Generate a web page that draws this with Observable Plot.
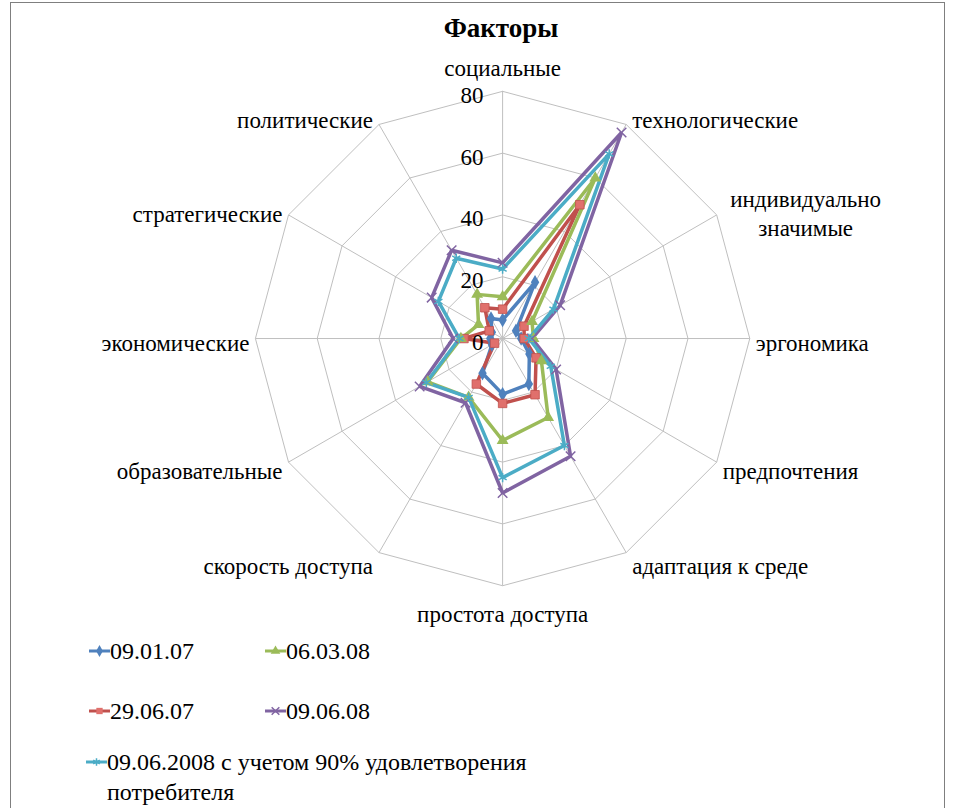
<!DOCTYPE html>
<html>
<head>
<meta charset="utf-8">
<script src="https://cdn.jsdelivr.net/npm/d3@7"></script>
<script src="https://cdn.jsdelivr.net/npm/@observablehq/plot@0.6"></script>
<style>
  html, body { margin: 0; padding: 0; background: #fff; }
  #wrap { position: relative; width: 956px; height: 808px; overflow: hidden; font-family: "Liberation Serif", "Tinos", "Times New Roman", "DejaVu Serif", serif; }
  #frame { position: absolute; left: 10px; top: 2px; width: 935px; height: 830px; border: 1px solid #7f7f7f; box-sizing: border-box; }
  #title { position: absolute; left: 0; top: 13px; width: 1002px; text-align: center; font-weight: bold; font-size: 27px; color: #000; }
  #chart { position: absolute; left: 0; top: 0; }
  .leg { position: absolute; font-size: 24px; color: #000; line-height: 30px; white-space: nowrap; }
  .leg svg { vertical-align: middle; position: absolute; left: 0; top: 9px; }
  .leg span { position: absolute; left: 22px; top: 0; }
</style>
</head>
<body>
<div id="wrap">
  <div id="chart"></div>
  <div id="title">Факторы</div>
  <div id="legend"></div>
  <div id="frame"></div>
</div>
<script>
// ---- data ----
const categories = [
  "социальные", "технологические", "индивидуально значимые", "эргономика",
  "предпочтения", "адаптация к среде", "простота доступа", "скорость доступа",
  "образовательные", "экономические", "стратегические", "политические"
];
const seriesNames = [
  "09.01.07", "29.06.07", "06.03.08", "09.06.08",
  "09.06.2008 с учетом 90% удовлетворения потребителя"
];
const s090107 = [6, 21, 5, 6, 10, 17, 18, 13, 4, 4, 4, 7.5];
const s290607 = [9.5, 50, 8, 7, 12.5, 21, 21, 17, 3, 12.5, 5, 11.5];
const s060308 = [13.5, 60, 11, 10, 14.5, 29.5, 33, 22, 28, 13.5, 9, 16.5];
const s090608 = [24.5, 77, 21.5, 9.5, 20, 44, 50, 24, 31, 16, 26.5, 33];
const s090608adj = [22.5, 69, 19, 8.5, 18, 40, 45, 22, 28.5, 14, 24, 30];
const tickValues = [0, 20, 40, 60, 80];

// ---- styles ----
const FONT = "'Liberation Serif', Tinos, 'Times New Roman', 'DejaVu Serif', serif";
const seriesValues = [s090107, s290607, s060308, s090608, s090608adj];
const colors = ["#4F81BD", "#C0504D", "#9BBB59", "#8064A2", "#4BACC6"];
const markerFill = ["#4F81BD", "#E0706C", "#9BBB59", "#8064A2", "#4BACC6"];
const symbols = ["diamond", "square", "triangle", "times", "asterisk"];
const n = categories.length;
const maxV = 80;
const ang = i => i * 2 * Math.PI / n;
const px = (v, i) => v * Math.sin(ang(i));
const py = (v, i) => v * Math.cos(ang(i));

const lineRows = [];
const dotRows = [];
seriesValues.forEach((vals, s) => {
  for (let k = 0; k <= n; k++) {
    const i = k % n;
    lineRows.push({s, x: px(vals[i], i), y: py(vals[i], i)});
    if (k < n) dotRows.push({s, x: px(vals[i], i), y: py(vals[i], i)});
  }
});
const ringRows = [];
tickValues.filter(t => t > 0).forEach(t => {
  for (let k = 0; k <= n; k++) ringRows.push({t, x: px(t, k % n), y: py(t, k % n)});
});
const spokes = categories.map((c, i) => ({x2: px(maxV, i), y2: py(maxV, i)}));

const labelRows = categories.map((c, i) => {
  const sn = Math.sin(ang(i)), cs = Math.cos(ang(i));
  let anchor = Math.abs(sn) < 0.01 ? "middle" : (sn > 0 ? "start" : "end");
  let dx = Math.abs(sn) < 0.01 ? 0 : (sn > 0 ? 6 : -6);
  let dy = 3 - 10 * cs;
  let text = c;
  if (i === 0) dy = -25;
  if (i === 6) dy = 27;
  if (c === "индивидуально значимые") { text = "индивидуально\nзначимые"; anchor = "middle"; dx = 89; dy = -3; }
  return {x: px(maxV, i), y: py(maxV, i), text, anchor, dx, dy};
});

const marks = [
  Plot.line(ringRows, {x: "x", y: "y", z: "t", stroke: "#bfbfbf", strokeWidth: 1}),
  Plot.link(spokes, {x1: 0, y1: 0, x2: "x2", y2: "y2", stroke: "#bfbfbf", strokeWidth: 1}),
];
seriesValues.forEach((v, s) => {
  marks.push(Plot.line(lineRows.filter(d => d.s === s), {x: "x", y: "y", stroke: colors[s], strokeWidth: 3.5, strokeLinejoin: "miter", curve: "linear"}));
});
seriesValues.forEach((v, s) => {
  const sym = symbols[s];
  const hollow = sym === "times" || sym === "asterisk";
  marks.push(Plot.dot(dotRows.filter(d => d.s === s), {
    x: "x", y: "y", symbol: () => sym, r: sym === "square" ? 4.8 : 4.4,
    fill: hollow ? "none" : markerFill[s], stroke: hollow ? colors[s] : (s === 1 ? "#C0504D" : "none"),
    strokeWidth: hollow ? 1.5 : 0.8
  }));
});
labelRows.forEach(l => {
  marks.push(Plot.text([l], {x: "x", y: "y", text: "text", textAnchor: l.anchor, dx: l.dx, dy: l.dy,
    fontSize: 23, fill: "#000", lineHeight: 1.26}));
});
marks.push(Plot.text(tickValues, {x: 0, y: d => d, text: d => String(d), textAnchor: "end", dx: -19, dy: 4, fontSize: 23, fill: "#000"}));

const plot = Plot.plot({
  width: 956, height: 808, margin: 0,
  x: {domain: [-162.5, 146.9], axis: null},
  y: {domain: [-152.1, 109.4], axis: null},
  symbol: {type: "identity"},
  style: {fontFamily: FONT, background: "transparent"},
  marks
});
document.getElementById("chart").appendChild(plot);

const legPos = [
  {x: 88, y: 636}, {x: 88, y: 696}, {x: 264, y: 636}, {x: 264, y: 696}, {x: 85, y: 747}
];
const leg = document.getElementById("legend");
const symMap = {diamond: d3.symbolDiamond, square: d3.symbolSquare, triangle: d3.symbolTriangle, times: d3.symbolTimes, asterisk: d3.symbolAsterisk};
seriesNames.forEach((name, s) => {
  const div = document.createElement("div");
  div.className = "leg";
  div.style.left = legPos[s].x + "px";
  div.style.top = legPos[s].y + "px";
  const svg = d3.create("svg").attr("width", 24).attr("height", 12);
  svg.append("line").attr("x1", 1).attr("x2", 22).attr("y1", 6).attr("y2", 6).attr("stroke", colors[s]).attr("stroke-width", 3);
  const hollow = symbols[s] === "times" || symbols[s] === "asterisk";
  svg.append("path").attr("transform", "translate(11.5,6)")
    .attr("d", d3.symbol(symMap[symbols[s]], 40)())
    .attr("fill", hollow ? "none" : markerFill[s]).attr("stroke", hollow ? colors[s] : "none").attr("stroke-width", 1.5);
  div.appendChild(svg.node());
  const span = document.createElement("span");
  if (s === 4) {
    span.innerHTML = "09.06.2008 с учетом 90% удовлетворения<br>потребителя";
  } else span.textContent = name;
  div.appendChild(span);
  leg.appendChild(div);
});
</script>
</body>
</html>
